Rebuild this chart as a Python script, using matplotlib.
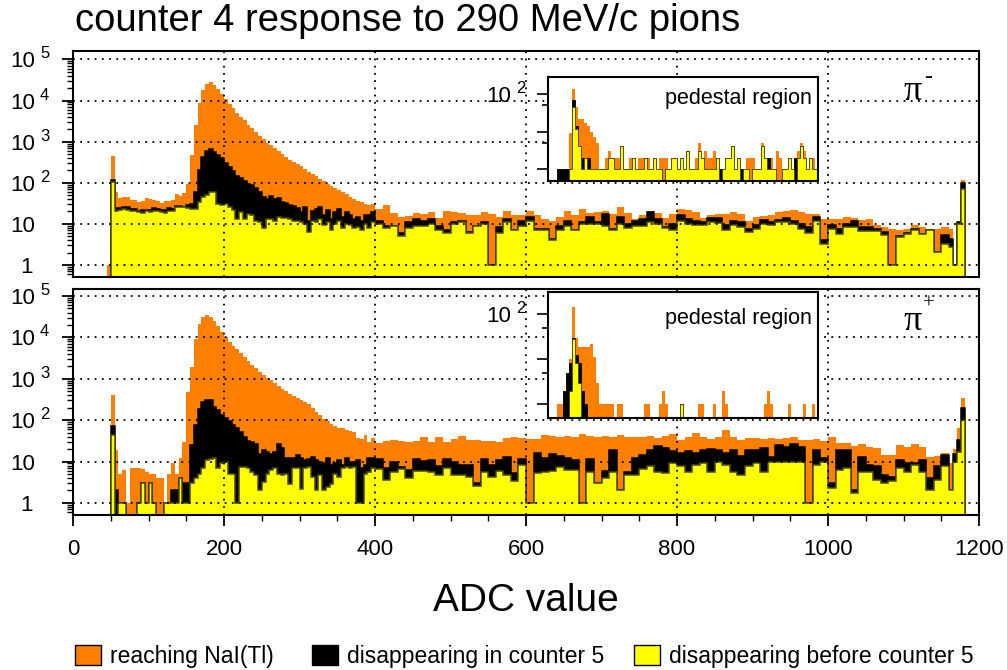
import numpy as np
import matplotlib
matplotlib.use("Agg")
import matplotlib.pyplot as plt
from matplotlib.patches import Rectangle
from matplotlib.transforms import blended_transform_factory, ScaledTranslation
from matplotlib.ticker import LogLocator, NullFormatter, MultipleLocator

plt.rcParams['font.family'] = ['Liberation Sans', 'DejaVu Sans']

ORANGE = '#ff8000'
YELLOW = '#ffff00'
YEDGE = '#4a4a00'

# ADC bin edges: 5-channel bins up to 400, 10-channel bins after, short bins at the end
edges = np.r_[np.arange(45, 400, 5), np.arange(400, 1160, 10),
              [1160, 1166, 1171, 1176, 1181]]

######## pi- : counts per bin ########
neg_nai = [1,
    455, 60, 42, 45, 46, 38, 37, 34, 35, 42, 40, 38, 35, 33, 36, 36, 37, 52, 48,
    55, 95, 460, 2600, 8800, 18000, 25000, 28000, 24000, 19000,
    14700, 11000, 8000, 6400, 5000, 4000, 3300, 2600, 2200, 1700,
    1400, 1150, 950, 820, 700, 580, 490, 415, 360, 315,
    280, 250, 210, 180, 165, 145, 125, 110, 95, 83,
    75, 67, 60, 52, 45, 40, 36, 34, 31, 28, 31,
    23, 28, 18, 15, 15.6, 18, 17, 19, 14, 21,
    19, 18, 16, 16, 19, 17, 15, 20, 16.5, 16,
    21, 16, 13.5, 12, 15, 21, 16, 23, 18, 19,
    21, 17, 25, 18, 13.5, 16, 20, 18, 14, 17,
    23.5, 21.5, 19.5, 14, 16, 17.7, 17, 19, 17, 12,
    14.7, 15.6, 16, 19.5, 20.5, 21.5, 19.5, 17, 17.7, 13.5,
    13, 13, 14.7, 14.2, 12.2, 13, 9.3, 8.4, 7.3, 7,
    7.3, 9.3, 8.4, 7.7, 7.3, 8.4,
    7.7, 1, 12, 115]
neg_c5 = [0,
    114, 24, 24, 25, 25, 23, 23, 21, 22, 22, 22, 24, 23, 22, 22, 24, 23, 27, 27,
    26, 28, 31, 60, 200, 415, 600, 680, 570, 480,
    390, 300, 245, 190, 150, 130, 108, 95, 86, 75,
    60, 45, 41, 48, 41, 43, 34, 32, 29, 27,
    24.5, 19.6, 26, 12, 20, 23, 26, 16, 21.6, 13.5,
    19.6, 23, 15, 19.6, 16, 13.5, 15, 12, 16, 16, 19.6,
    12, 9, 9, 6, 11, 13, 12, 13, 9, 7,
    11, 12, 6.5, 9, 11, 1, 8.5, 13, 7, 12,
    14.8, 7.7, 7.7, 4.4, 9, 12, 7, 11, 15, 11,
    17, 7.7, 14.8, 10, 12, 13, 19, 13, 8.5, 10,
    16, 13.5, 12, 11, 14, 14, 9.3, 12, 11, 7.7,
    9.3, 12.7, 11, 12.7, 14, 12, 10, 8.4, 14.7, 4,
    9.3, 7.3, 10, 11.8, 8.2, 8.2, 7.7, 6.4, 1, 5,
    6, 7.3, 5.8, 7, 2.1, 5.3,
    4.4, 1, 11, 100]
neg_c4 = [0,
    105, 21, 22, 23, 22, 21, 20, 19, 18, 20, 19, 21, 20, 19, 18, 21, 20, 26, 25,
    26, 24.5, 23.6, 23.6, 34, 45, 51, 60, 58, 31,
    28, 31, 26, 21.6, 13.5, 19.6, 13.5, 17, 16, 12,
    11, 7.8, 13.5, 13, 12, 15, 14, 14, 13.5, 12,
    11.7, 11, 10, 6.5, 12, 11, 13.5, 9.4, 11, 7,
    10, 12, 7.8, 10, 9.4, 7.8, 8.5, 7, 10, 7.8, 11,
    10, 8, 9, 5, 8, 9, 9, 10, 7, 6,
    10, 11, 6, 9, 10, 1, 6, 11, 7, 9,
    12, 7, 7, 4, 7, 9, 7, 10, 10, 10,
    9, 7, 10, 8, 9, 9, 11, 10, 8, 7,
    12, 10, 9.3, 9.3, 11, 10.7, 7, 9.3, 8.4, 6.4,
    7.7, 9.8, 9.3, 11, 11, 9.8, 7.7, 6, 12, 3.3,
    7.7, 5.8, 8.4, 8.4, 6.8, 6.8, 6.8, 5.3, 1, 4.7,
    5.6, 7, 5.8, 7, 2.1, 3.3,
    2.8, 1, 10, 70]

######## pi+ : counts per bin ########
pos_nai = [0,
    417, 19, 5.1, 6.2, 1, 7, 6.8, 7, 6.5, 5.5, 5, 5.1, 4, 4, 1, 5, 9, 5, 12,
    30, 480, 1950, 9400, 21500, 31000, 34500, 31000, 25000, 19000,
    13700, 10300, 7800, 6300, 5200, 4200, 3400, 2700, 2200, 1780,
    1480, 1220, 1050, 910, 770, 680, 580, 510, 440, 390,
    345, 305, 275, 240, 200, 160, 130, 105, 98, 83,
    71, 65, 63, 58, 56, 52, 37, 35, 43, 30, 37,
    28, 32, 33, 31, 30, 32, 39, 30, 39, 30,
    35, 42, 33, 33, 32, 32, 30, 37, 40, 37,
    35, 36, 44, 42, 40, 42, 39, 46, 42, 40,
    42, 40, 44, 39, 40, 39, 42, 37, 42, 46,
    33, 40, 48, 39, 35, 39, 58, 39, 33, 36.6,
    36.6, 35, 38, 35, 36.6, 39, 33, 33, 35, 32,
    40, 28, 28, 24, 26, 23, 21, 14.5, 14.5, 25,
    23, 27, 22, 12.7, 13.7, 16,
    9, 20, 64, 350]
pos_c5 = [0,
    72, 2, 1, 1, 0, 0, 0, 1, 3, 1, 3, 1, 0, 0, 1, 1, 2, 2, 4,
    3, 3, 25, 75, 190, 275, 300, 300, 210, 175,
    130, 113, 95, 75, 63, 52, 40, 31, 29, 26,
    15.6, 19, 17, 15.6, 17, 27, 21, 12, 12.3, 12,
    14, 12.3, 10.8, 11.4, 13, 10.8, 9.8, 9.4, 12, 8.2,
    9, 10.8, 8.2, 12, 9.8, 10, 10.8, 6.8, 8.2, 12, 12,
    11.4, 7, 10, 7.3, 6.3, 11.6, 10.4, 11, 8, 11.4,
    10, 8.3, 8.3, 3, 11.6, 8.3, 11, 13.2, 5.2, 11.4,
    1, 16, 12.5, 15.3, 13.7, 12, 11, 1, 11.6, 3,
    6, 19, 2, 5.5, 12, 14.5, 19, 24, 21, 17.5,
    16, 17.5, 16.5, 19, 20, 19, 16, 18.5, 13.7, 18.5,
    19, 21, 13.2, 25, 22, 27, 23, 1, 19, 12,
    3, 19, 19, 2, 13, 8.3, 7.6, 4.8, 4.3, 11,
    9, 9, 11, 4, 7.6, 14.5,
    2, 15, 33, 200]
pos_c4 = [0,
    44, 0, 1, 1, 0, 0, 0, 1, 3, 1, 3, 1, 0, 0, 1, 1, 1, 1, 4,
    1, 1, 3, 3.9, 5.1, 6.8, 10.8, 11.8, 12.3, 6.8,
    9, 9.8, 5.1, 5.1, 1, 7.4, 7.4, 6.8, 5.6, 4.7,
    2, 3.2, 5.1, 6.2, 6.8, 5.1, 4.7, 5.1, 2.9, 6.8,
    6.8, 2.2, 6.8, 7.4, 4.3, 2, 4.7, 2, 2.4, 2.9,
    5.1, 4.3, 6.8, 7.4, 6.8, 7.4, 1, 1, 5.1, 5.6, 6.8,
    6.6, 3.6, 5.7, 6.5, 4, 5.9, 6, 5.7, 4.8, 6.9,
    4.8, 4.8, 4.3, 2.5, 5.7, 4.3, 6, 4.8, 3.3, 8.3,
    1, 5.4, 5.7, 6, 7.3, 6.3, 6.3, 1, 5.7, 3,
    4, 5.7, 2, 4.8, 4.8, 6.5, 7.8, 5.7, 5.2, 9,
    7.6, 5.7, 8.3, 9, 5.7, 10, 8.3, 5.7, 4.8, 7.6,
    9, 5.7, 10, 10, 10, 10, 10, 1, 8.3, 10,
    2.3, 6.3, 7, 1.7, 5.7, 5.7, 3.6, 3.1, 3.3, 7,
    5.7, 8.3, 5.7, 2, 3.6, 7.6,
    2, 10, 17, 100]

######## pedestal region insets (90 fine bins) ########
ped_edges = np.arange(0, 91)
neg_ped_nai = [0, 0, 0, 1, 1, 1, 1, 9, 140, 45,
               21, 21, 17, 14, 10, 7, 5, 1, 1, 2,
               3, 2, 2, 2, 4, 1, 1, 2, 2, 1,
               2, 2, 2, 2, 1, 2, 1, 2, 2, 2,
               1, 2, 2, 1, 2, 1, 3, 1, 1, 2,
               5, 2, 3, 2, 2, 3, 2, 1, 1, 2,
               2, 4, 1, 2, 1, 1, 2, 2, 2, 1,
               1, 5, 2, 2, 2, 1, 3, 2, 1, 1,
               2, 1, 2, 3, 5, 3, 1, 2, 2, 1]
neg_ped_c5 = [0, 0, 0, 1, 1, 1, 1, 1, 70, 14,
              4, 2, 2, 2, 1, 1, 1, 1, 1, 1,
              2, 2, 1, 1, 4, 1, 1, 1, 2, 1,
              1, 1, 2, 1, 1, 2, 1, 1, 0, 1,
              1, 2, 2, 1, 2, 1, 3, 1, 1, 1,
              3, 2, 1, 1, 1, 1, 2, 1, 1, 2,
              2, 4, 1, 2, 1, 1, 1, 0, 1, 1,
              1, 4, 2, 2, 1, 1, 0, 0, 1, 1,
              2, 1, 2, 2, 4, 2, 1, 2, 1, 1]
neg_ped_c4 = [0, 0, 0, 0, 0, 0, 0, 1, 45, 12,
              4, 1, 2, 1, 1, 1, 1, 1, 1, 1,
              2, 2, 1, 1, 4, 1, 1, 1, 2, 1,
              1, 1, 2, 1, 1, 2, 1, 1, 0, 1,
              1, 2, 2, 1, 2, 1, 3, 1, 1, 1,
              3, 2, 1, 1, 1, 1, 2, 0, 1, 2,
              2, 4, 1, 2, 0, 1, 1, 0, 1, 1,
              1, 4, 2, 1, 1, 1, 0, 0, 1, 1,
              2, 1, 0, 2, 4, 2, 1, 2, 1, 1]
pos_ped_nai = [0, 0, 0, 1, 1, 2, 5, 10, 140, 30,
               19, 19, 19, 19, 22, 11, 3, 1, 1, 1,
               1, 1, 0, 1, 1, 0, 0, 0, 0, 0,
               0, 0, 1, 1, 0, 0, 0, 1, 2, 1,
               0, 0, 0, 0, 1, 0, 0, 0, 0, 0,
               1, 1, 0, 0, 0, 1, 0, 0, 2, 1,
               0, 0, 0, 0, 0, 0, 0, 0, 0, 0,
               0, 0, 1, 2, 1, 0, 0, 0, 0, 0,
               1, 0, 0, 0, 0, 1, 0, 0, 1, 0]
pos_ped_c5 = [0, 0, 0, 0, 0, 2, 5, 8, 30, 12,
              8, 2, 1, 0, 0, 0, 0, 0, 0, 0,
              0, 0, 0, 0, 0, 0, 0, 0, 0, 0,
              0, 0, 0, 0, 0, 0, 0, 0, 0, 0,
              0, 0, 0, 0, 1, 0, 0, 0, 0, 0,
              0, 0, 0, 0, 0, 0, 0, 0, 0, 0,
              0, 0, 0, 0, 0, 0, 0, 0, 0, 0,
              0, 0, 0, 0, 0, 0, 0, 0, 0, 0,
              0, 0, 0, 0, 0, 0, 0, 0, 0, 0]
pos_ped_c4 = [0, 0, 0, 0, 0, 0, 0, 2, 28, 8,
              3, 0, 0, 0, 0, 0, 0, 0, 0, 0,
              0, 0, 0, 0, 0, 0, 0, 0, 0, 0,
              0, 0, 0, 0, 0, 0, 0, 0, 0, 0,
              0, 0, 0, 0, 1, 0, 0, 0, 0, 0,
              0, 0, 0, 0, 0, 0, 0, 0, 0, 0,
              0, 0, 0, 0, 0, 0, 0, 0, 0, 0,
              0, 0, 0, 0, 0, 0, 0, 0, 0, 0,
              0, 0, 0, 0, 0, 0, 0, 0, 0, 0]

W, H = 1007, 670
fig = plt.figure(figsize=(W / 100, H / 100), dpi=100)
LO = 1e-3
TICKFS = 16


def fx(px):
    return px / W


def fy(py):
    return 1 - py / H


def draw_stack(ax, e, nai, c5, c4, lw):
    ax.stairs(np.maximum(nai, LO), e, baseline=LO, fill=True,
              facecolor=ORANGE, edgecolor='none', zorder=1)
    ax.stairs(np.maximum(c5, LO), e, baseline=LO, fill=True,
              facecolor='black', edgecolor='black', linewidth=lw, zorder=1.1)
    ax.stairs(np.maximum(c4, LO), e, baseline=LO, fill=True,
              facecolor=YELLOW, edgecolor=YEDGE, linewidth=lw, zorder=1.2)


def log_label(ax, xp, v, k):
    # "10" followed by a raised exponent, ROOT style
    tr = blended_transform_factory(fig.transFigure, ax.transData) + \
        ScaledTranslation(0, -8 / 100, fig.dpi_scale_trans)
    ax.text(fx(xp), v, '10', transform=tr, ha='left', va='baseline', fontsize=TICKFS)
    tr2 = blended_transform_factory(fig.transFigure, ax.transData) + \
        ScaledTranslation(0, 1 / 100, fig.dpi_scale_trans)
    ax.text(fx(xp + 30), v, str(k), transform=tr2, ha='left', va='baseline', fontsize=12)


def main_panel(top_px, nai, c5, c4, ytop, bottom_axis):
    ax = fig.add_axes([fx(73), fy(top_px + 226), fx(906), 226 / H])
    draw_stack(ax, edges, nai, c5, c4, 1.1)
    ax.set_yscale('log')
    ax.set_xlim(0, 1200)
    ax.set_ylim(0.51, ytop)
    ax.set_yticks([1, 10, 1e2, 1e3, 1e4, 1e5])
    ax.yaxis.set_minor_locator(LogLocator(base=10, subs=np.arange(2, 10), numticks=20))
    ax.yaxis.set_minor_formatter(NullFormatter())
    ax.tick_params(axis='y', which='major', direction='out', length=8, width=1.3, labelleft=False)
    ax.tick_params(axis='y', which='minor', direction='out', length=4, width=1)
    ax.xaxis.set_major_locator(MultipleLocator(200))
    if bottom_axis:
        ax.xaxis.set_minor_locator(MultipleLocator(50))
        ax.tick_params(axis='x', which='major', direction='out', length=8, width=1.3,
                       labelsize=TICKFS, pad=9)
        ax.tick_params(axis='x', which='minor', direction='out', length=4, width=1)
    else:
        ax.tick_params(axis='x', which='both', bottom=False, labelbottom=False)
    ax.grid(True, which='major', color='black', linestyle=(0, (1, 3)), linewidth=1.3)
    ax.set_axisbelow(False)
    for s in ax.spines.values():
        s.set_linewidth(1.5)
    tr = blended_transform_factory(fig.transFigure, ax.transData) + \
        ScaledTranslation(0, -8 / 100, fig.dpi_scale_trans)
    ax.text(fx(20), 1, '1', transform=tr, ha='left', va='baseline', fontsize=TICKFS)
    ax.text(fx(10), 10, '10', transform=tr, ha='left', va='baseline', fontsize=TICKFS)
    for k in range(2, 6):
        log_label(ax, 10, 10.0 ** k, k)
    return ax


def inset(top_px, bot_px, nai, c5, c4, ytop, ybot):
    ax = fig.add_axes([fx(548), fy(bot_px), fx(270), (bot_px - top_px) / H])
    draw_stack(ax, ped_edges, nai, c5, c4, 0.6)
    ax.set_yscale('log')
    ax.set_xlim(0, 90)
    ax.set_ylim(ybot, ytop)
    ax.set_xticks([])
    ax.set_yticks([1, 10, 100])
    ax.set_yticks([5, 50], minor=True)
    ax.yaxis.set_major_formatter(NullFormatter())
    ax.yaxis.set_minor_formatter(NullFormatter())
    ax.tick_params(axis='y', which='major', direction='out', length=8, width=1.2)
    ax.tick_params(axis='y', which='minor', direction='out', length=4, width=1.2)
    for s in ax.spines.values():
        s.set_linewidth(1.5)
    ax.text(0.978, 0.79, 'pedestal region', transform=ax.transAxes,
            ha='right', va='center', fontsize=15.5)
    log_label(ax, 486, 100, 2)
    return ax


ax1 = main_panel(51, neg_nai, neg_c5, neg_c4, 1.6e5, False)
ax2 = main_panel(289, pos_nai, pos_c5, pos_c4, 1.48e5, True)
inset(77, 181, neg_ped_nai, neg_ped_c5, neg_ped_c4, 285, 0.48)
inset(292, 418, pos_ped_nai, pos_ped_c5, pos_ped_c4, 309, 0.49)

# particle labels
fig.text(fx(903), fy(92), 'π', fontsize=26, family='Liberation Serif', va='center')
fig.text(fx(924), fy(77), '-', fontsize=17, family='Liberation Serif', va='center')
fig.text(fx(903), fy(322), 'π', fontsize=26, family='Liberation Serif', va='center')
fig.text(fx(923), fy(304), '+', fontsize=15, family='Liberation Serif', va='center')

# titles
fig.text(fx(75), fy(21), 'counter 4 response to 290 MeV/c pions', fontsize=27.5, va='center')
fig.text(fx(526), fy(601), 'ADC value', fontsize=28, ha='center', va='center')

# legend along the bottom
legend_items = [(75, ORANGE, 'reaching NaI(Tl)'),
                (312, 'black', 'disappearing in counter 5'),
                (634, YELLOW, 'disappearing before counter 5')]
for x0, c, lab in legend_items:
    fig.patches.append(Rectangle((fx(x0), fy(665)), fx(26), 20 / H, facecolor=c,
                                 edgecolor='black', linewidth=1, transform=fig.transFigure))
    fig.text(fx(x0 + 35), fy(656), lab, fontsize=16.5, va='center')

fig.savefig('out.png', dpi=100)
